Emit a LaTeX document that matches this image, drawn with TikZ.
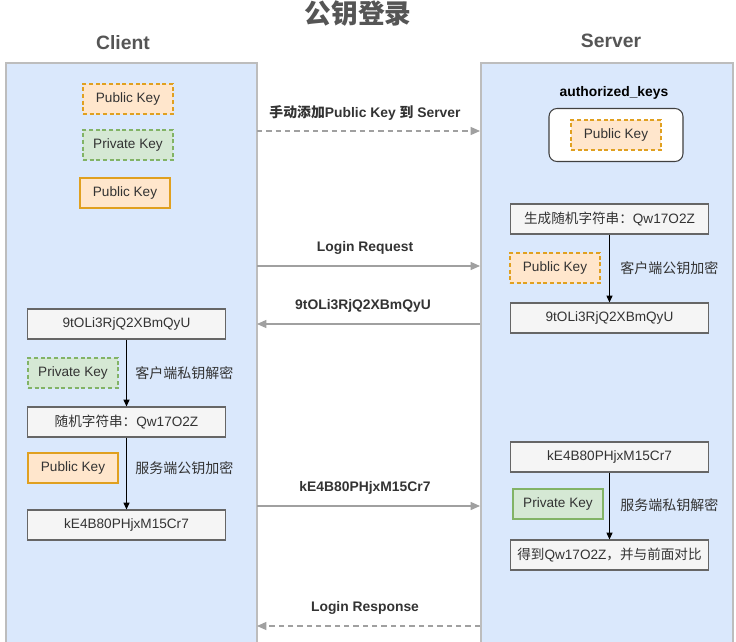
\documentclass[tikz,border=0pt]{standalone}
\usepackage{fontspec}
\setmainfont{Liberation Sans}
\newfontfamily\cjk{Noto Sans CJK SC}
\usetikzlibrary{arrows.meta}
\definecolor{colfill}{HTML}{DAE8FC}
\definecolor{colline}{HTML}{BDBDBD}
\definecolor{orfill}{HTML}{FFE6CC}
\definecolor{orline}{HTML}{E0A020}
\definecolor{grfill}{HTML}{D5E8D4}
\definecolor{grline}{HTML}{82B366}
\definecolor{bxfill}{HTML}{F5F5F5}
\definecolor{bxline}{HTML}{666666}
\definecolor{txt}{HTML}{333333}
\definecolor{ttl}{HTML}{555555}
\definecolor{msg}{HTML}{A0A0A0}
\tikzset{
  column/.style={draw=colline, line width=1.2pt, fill=colfill},
  keybox/.style={minimum width=67.5pt, minimum height=22.5pt, inner sep=0pt, font=\fontsize{10.2}{12}\selectfont, text=txt, line width=1pt},
  pubdash/.style={keybox, fill=orfill, draw=orline, dashed, dash pattern=on 3pt off 2pt},
  pubsolid/.style={keybox, fill=orfill, draw=orline},
  privdash/.style={keybox, fill=grfill, draw=grline, dashed, dash pattern=on 3pt off 2pt},
  privsolid/.style={keybox, fill=grfill, draw=grline},
  databox/.style={minimum width=149pt, minimum height=22.5pt, inner sep=0pt, fill=bxfill, draw=bxline, line width=0.9pt, font=\fontsize{10.2}{12}\selectfont, text=txt},
  stepnote/.style={font=\fontsize{10.5}{12}\selectfont\cjk, text=txt, anchor=west, inner sep=0pt},
  msglabel/.style={font=\fontsize{10.4}{12}\selectfont\bfseries, text=txt, inner sep=0pt},
  msgarrow/.style={draw=msg, line width=1pt, -{Triangle[length=7pt,width=6pt]}},
  msgdash/.style={msgarrow, dashed, dash pattern=on 4pt off 3pt},
  innerarrow/.style={draw=black, line width=0.6pt, -{Triangle[length=5pt,width=4.5pt]}},
}
\begin{document}
\begin{tikzpicture}[x=0.75pt, y=-0.75pt]
\useasboundingbox (0,0) rectangle (736,642);
% title and headers
\node[font=\fontsize{20}{22}\selectfont\cjk\bfseries, text=ttl] (title) at (358,14) {公钥登录};
\node[font=\fontsize{14.5}{16}\selectfont\bfseries, text=ttl] (clienthdr) at (123,43) {Client};
\node[font=\fontsize{14.5}{16}\selectfont\bfseries, text=ttl] (serverhdr) at (611,41) {Server};
% columns
\path[column] (6,63) rectangle (257,650);
\path[column] (481,63) rectangle (733,650);
% client legend keys
\node[pubdash] (ck1) at (128,99) {Public Key};
\node[privdash] (ck2) at (128,145) {Private Key};
\node[pubsolid] (ck3) at (125,193) {Public Key};
% server authorized keys
\node[font=\fontsize{10.4}{12}\selectfont\bfseries, text=black] (authlbl) at (614,93) {authorized\_keys};
\node[draw=black!75, fill=white, rounded corners=6pt, minimum width=100.5pt, minimum height=39.75pt, line width=0.8pt] (authbox) at (616,135) {};
\node[pubdash] (sk1) at (616,135) {Public Key};
% server steps
\node[databox] (s1) at (609.5,219) {{\cjk 生成随机字符串：}Qw17O2Z};
\node[pubdash] (sk2) at (555,268) {Public Key};
\node[databox] (s2) at (609.5,318) {9tOLi3RjQ2XBmQyU};
\draw[innerarrow] (s1) -- (s2);
\node[stepnote] (n1) at (620,268) {客户端公钥加密};
\node[databox] (s3) at (609.5,457) {kE4B80PHjxM15Cr7};
\node[privsolid] (sk3) at (558,504) {Private Key};
\node[databox] (s4) at (609.5,555) {{\cjk 得到}Qw17O2Z{\cjk ，并与前面对比}};
\draw[innerarrow] (s3) -- (s4);
\node[stepnote] (n2) at (620,505) {服务端私钥解密};
% client steps
\node[databox] (c1) at (126.5,324) {9tOLi3RjQ2XBmQyU};
\node[privdash] (ck4) at (73,373) {Private Key};
\node[databox] (c2) at (126.5,422) {{\cjk 随机字符串：}Qw17O2Z};
\draw[innerarrow] (c1) -- (c2);
\node[stepnote] (n3) at (135,373) {客户端私钥解密};
\node[pubsolid] (ck5) at (73,468) {Public Key};
\node[databox] (c3) at (126.5,525) {kE4B80PHjxM15Cr7};
\draw[innerarrow] (c2) -- (c3);
\node[stepnote] (n4) at (135,468) {服务端公钥加密};
% messages
\coordinate (m1a) at (257,131); \coordinate (m1b) at (480,131);
\draw[msgdash] (m1a) -- (m1b);
\node[msglabel] (l1) at (365,113) {{\cjk 手动添加}Public Key {\cjk 到} Server};
\coordinate (m2a) at (257,266); \coordinate (m2b) at (480,266);
\draw[msgarrow] (m2a) -- (m2b);
\node[msglabel] (l2) at (365,248) {Login Request};
\coordinate (m3a) at (480,324); \coordinate (m3b) at (257,324);
\draw[msgarrow] (m3a) -- (m3b);
\node[msglabel] (l3) at (363,306) {9tOLi3RjQ2XBmQyU};
\coordinate (m4a) at (257,506); \coordinate (m4b) at (480,506);
\draw[msgarrow] (m4a) -- (m4b);
\node[msglabel] (l4) at (365,488) {kE4B80PHjxM15Cr7};
\coordinate (m5a) at (480,626); \coordinate (m5b) at (257,626);
\draw[msgdash] (m5a) -- (m5b);
\node[msglabel] (l5) at (365,608) {Login Response};
\end{tikzpicture}
\end{document}
